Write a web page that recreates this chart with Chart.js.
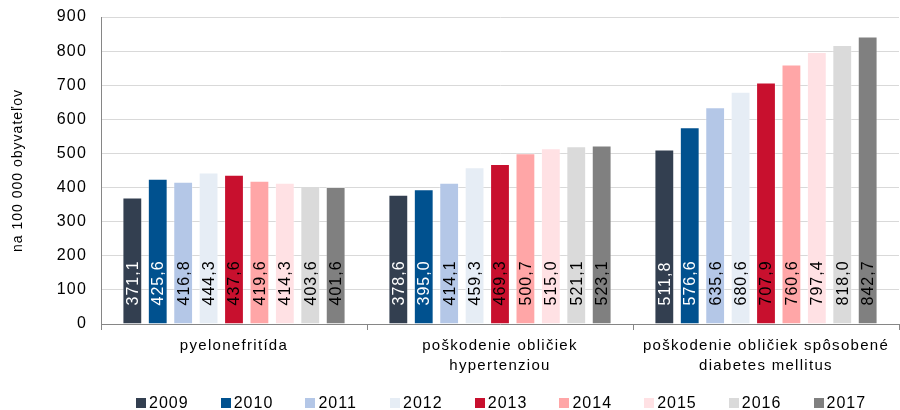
<!DOCTYPE html>
<html>
<head>
<meta charset="utf-8">
<script src="https://cdn.jsdelivr.net/npm/chart.js@4/dist/chart.umd.min.js"></script>
<style>
  html, body { margin: 0; padding: 0; background: #fff; }
  #wrap { position: relative; width: 900px; height: 410px; }
  #legend { position: absolute; left: 136px; top: 394px; height: 18px; display: flex;
            font: 16px "Liberation Sans", Arial, sans-serif; letter-spacing: 1px; color: #000; }
  .item { width: 84.7px; display: flex; align-items: center; white-space: nowrap; }
  .sw { width: 10px; height: 10px; margin-right: 3px; flex: none; }
</style>
</head>
<body>
<div id="wrap">
  <canvas id="chart" width="900" height="410"></canvas>
  <div id="legend"></div>
</div>
<script>
// categories and series
const categories = [
  ['pyelonefritída'],
  ['poškodenie obličiek', 'hypertenziou'],
  ['poškodenie obličiek spôsobené', 'diabetes mellitus']
];
const years = ['2009', '2010', '2011', '2012', '2013', '2014', '2015', '2016', '2017'];
const v2009 = [371.1, 378.6, 511.8];
const v2010 = [425.6, 395.0, 576.6];
const v2011 = [416.8, 414.1, 635.6];
const v2012 = [444.3, 459.3, 680.6];
const v2013 = [437.6, 469.3, 707.9];
const v2014 = [419.6, 500.7, 760.6];
const v2015 = [414.3, 515.0, 797.4];
const v2016 = [403.6, 521.1, 818.0];
const v2017 = [401.6, 523.1, 842.7];
const yTicks = [0, 100, 200, 300, 400, 500, 600, 700, 800, 900];

const series = [v2009, v2010, v2011, v2012, v2013, v2014, v2015, v2016, v2017];
const colors = ['#333f50', '#00518f', '#b4c7e7', '#e6edf5', '#c8102e', '#ffa6a7', '#ffe1e4', '#dadada', '#808080'];
const labelColors = ['#fff', '#fff', '#000', '#000', '#000', '#000', '#000', '#000', '#000'];

const FONT = '"Liberation Sans", Arial, sans-serif';

// legend (html)
document.getElementById('legend').innerHTML = years.map((y, i) =>
  `<div class="item"><span class="sw" style="background:${colors[i]}"></span>${y}</div>`
).join('');

// the reference text is a bit wide, so add some letter spacing per scale
const spacing = {
  id: 'spacing',
  afterUpdate(chart) {
    const wrap = (obj, fn, sp) => {
      if (obj['_sp_' + fn]) return;
      const orig = obj[fn];
      obj[fn] = function (...args) {
        const c = this.ctx, prev = c.letterSpacing;
        c.letterSpacing = sp;
        orig.apply(this, args);
        c.letterSpacing = prev;
      };
      obj['_sp_' + fn] = true;
    };
    wrap(chart.scales.x, 'drawLabels', '1.3px');
    wrap(chart.scales.y, 'drawLabels', '1.2px');
    wrap(chart.scales.y, 'drawTitle', '1px');
  }
};

// rotated value labels at the bar base
const barLabels = {
  id: 'barLabels',
  afterDatasetsDraw(chart) {
    const ctx = chart.ctx;
    chart.data.datasets.forEach((ds, i) => {
      const meta = chart.getDatasetMeta(i);
      meta.data.forEach((bar, j) => {
        const txt = ds.data[j].toFixed(1).replace('.', ',');
        ctx.save();
        ctx.translate(bar.x, bar.base - 18);
        ctx.rotate(-Math.PI / 2);
        ctx.font = '16px ' + FONT;
        ctx.letterSpacing = '1px';
        ctx.fillStyle = labelColors[i];
        ctx.textAlign = 'left';
        ctx.textBaseline = 'middle';
        ctx.fillText(txt, 0, 1);
        ctx.restore();
      });
    });
  }
};

new Chart(document.getElementById('chart'), {
  type: 'bar',
  data: {
    labels: categories,
    datasets: years.map((y, i) => ({
      label: y,
      data: series[i],
      backgroundColor: colors[i],
      borderColor: 'rgba(255,255,255,0.3)',
      borderWidth: 1,
      categoryPercentage: 0.86,
      barPercentage: 0.78
    }))
  },
  options: {
    responsive: false,
    animation: false,
    layout: { padding: { top: 0, right: 1, left: 4, bottom: 34 } },
    plugins: {
      legend: { display: false },
      tooltip: { enabled: false }
    },
    scales: {
      x: {
        afterFit: axis => { axis.height = 52; },
        grid: {
          offset: true,
          drawOnChartArea: false,
          color: '#868686',
          tickLength: 6
        },
        border: { color: '#868686' },
        ticks: {
          color: '#000',
          font: { family: FONT, size: 15, lineHeight: 1.34 },
          padding: 6,
          maxRotation: 0,
          autoSkip: false
        }
      },
      y: {
        min: 0,
        max: 900,
        afterBuildTicks: axis => { axis.ticks = yTicks.map(v => ({ value: v })); },
        afterFit: axis => { axis.width = 97; axis.paddingTop = 17; axis.paddingBottom = 0; },
        grid: { color: '#d9d9d9', drawTicks: false },
        border: { color: '#868686' },
        ticks: {
          color: '#000',
          font: { family: FONT, size: 16 },
          padding: 14
        },
        title: {
          display: true,
          text: 'na 100 000 obyvateľov',
          color: '#000',
          font: { family: FONT, size: 14 },
          padding: { top: 6, bottom: 0 }
        }
      }
    }
  },
  plugins: [barLabels, spacing]
});
</script>
</body>
</html>
